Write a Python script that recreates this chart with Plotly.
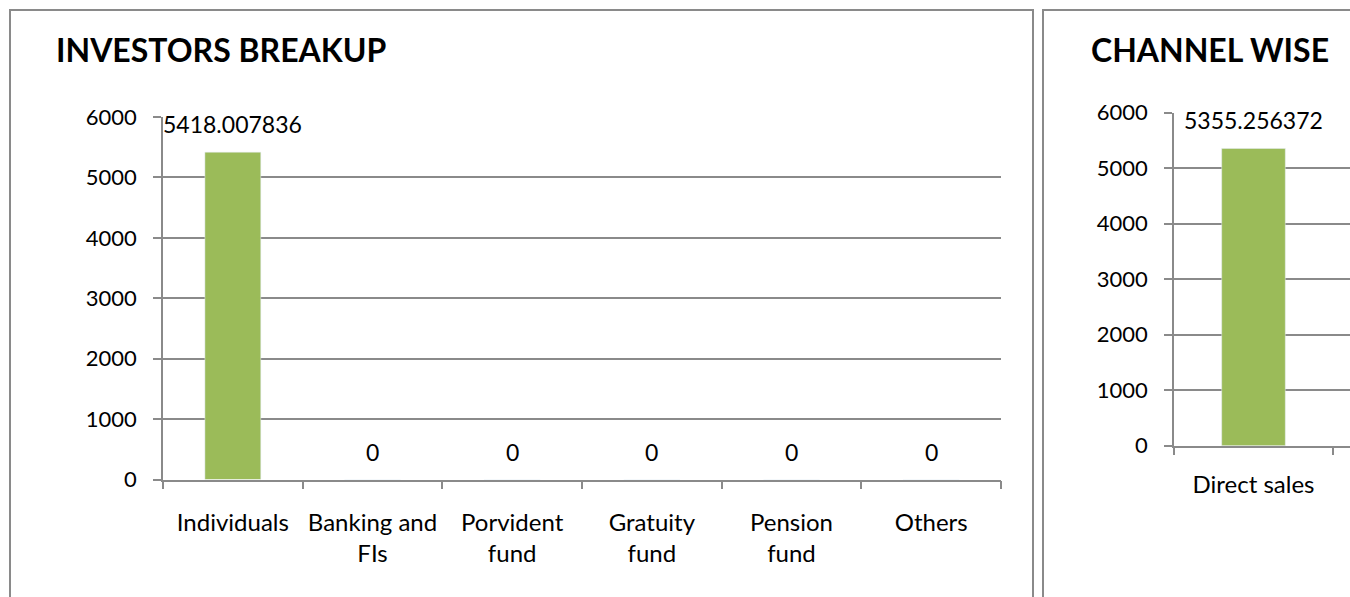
import plotly.graph_objects as go

# Investors breakup
investor_types = ["Individuals", "Banking and<br>FIs", "Porvident<br>fund",
                  "Gratuity<br>fund", "Pension<br>fund", "Others"]
investor_amounts = [5418.007836, 0, 0, 0, 0, 0]

# Channel wise
channels = ["Direct sales", "Through agents"]
channel_amounts = [5355.256372, 27.62183051]

y_ticks = [0, 1000, 2000, 3000, 4000, 5000, 6000]

BAR = "#9BBB59"
GRID = "#8a8a8a"
FONT = "Lato"
W, H = 1350, 597


def fx(p):
    return p / W


def fy(p):
    return 1 - p / H


fig = go.Figure()

fig.add_trace(go.Bar(x=investor_types, y=investor_amounts, marker_color=BAR,
                     width=0.4, xaxis="x", yaxis="y", hoverinfo="x+y"))
fig.add_trace(go.Bar(x=channels, y=channel_amounts, marker_color=BAR,
                     width=0.4, xaxis="x2", yaxis="y2", hoverinfo="x+y"))

# value labels above each bar
for xr, yr, cats, vals in (("x", "y", investor_types, investor_amounts),
                           ("x2", "y2", channels, channel_amounts)):
    for c, v in zip(cats, vals):
        fig.add_annotation(x=c, y=v, xref=xr, yref=yr, text=f"{v:.10g}",
                           showarrow=False, yanchor="bottom", yshift=12,
                           font=dict(family=FONT, size=23, color="black"))

xcommon = dict(type="category", showline=True, linecolor=GRID, linewidth=1.5,
               ticks="outside", tickson="boundaries", ticklen=8, tickcolor=GRID,
               tickwidth=1.5, showgrid=False, zeroline=False, tickangle=0,
               tickfont=dict(family=FONT, size=24, color="black"))
ycommon = dict(range=[0, 6000], tickvals=y_ticks, showline=True, linecolor=GRID,
               linewidth=1.5, ticks="outside", ticklen=8, tickcolor=GRID,
               tickwidth=1.5, showgrid=True, gridcolor=GRID, gridwidth=1.5,
               zeroline=False, ticklabelstandoff=12,
               tickfont=dict(family=FONT, size=22, color="black"))

# the channel panel runs past the right edge of the page: its axis keeps
# the same category width and simply stops at the paper edge
ch_left, ch_cat = 1174, 159

fig.update_layout(
    width=W, height=H,
    margin=dict(l=0, r=0, t=0, b=0, autoexpand=False),
    paper_bgcolor="white", plot_bgcolor="white",
    showlegend=False,
    font=dict(family=FONT, color="black"),
    xaxis=dict(domain=[fx(163), fx(1001)], anchor="y", range=[-0.5, 5.5],
               ticklabelstandoff=21, **xcommon),
    yaxis=dict(domain=[fy(479.5), fy(117)], anchor="x", **ycommon),
    xaxis2=dict(domain=[fx(ch_left), 1.0], anchor="y2",
                range=[-0.5, -0.5 + (W - ch_left) / ch_cat],
                ticklabelstandoff=17, **xcommon),
    yaxis2=dict(domain=[fy(445.7), fy(112.7)], anchor="x2", **ycommon),
)

# chart frames
for x0, x1 in ((10, 1033), (1043, 1400)):
    fig.add_shape(type="rect", xref="paper", yref="paper",
                  x0=fx(x0), x1=fx(x1), y0=-0.1, y1=fy(10),
                  line=dict(color=GRID, width=2), fillcolor="rgba(0,0,0,0)")

# chart titles
for text, x in (("INVESTORS BREAKUP", 53.5), ("CHANNEL WISE", 1089)):
    fig.add_annotation(text=f"<b>{text}</b>", xref="paper", yref="paper",
                       x=fx(x), y=fy(28), xanchor="left", yanchor="top",
                       showarrow=False,
                       font=dict(family=FONT, size=32, color="black"))

fig.write_html("out.html")
